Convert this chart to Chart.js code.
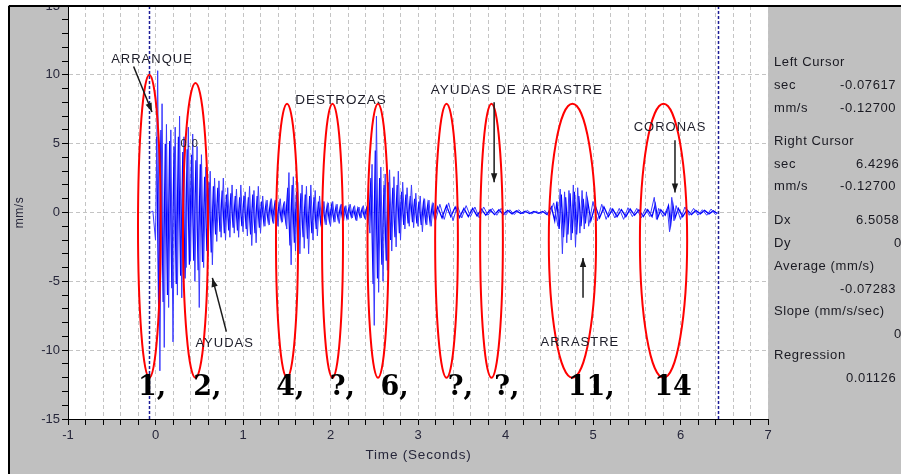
<!DOCTYPE html>
<html>
<head>
<meta charset="utf-8">
<script src="https://cdn.jsdelivr.net/npm/chart.js@4.4.1/dist/chart.umd.min.js"></script>
<style>
  html, body { margin: 0; padding: 0; background: #ffffff; }
  #contenedor { width: 901px; height: 474px; }
</style>
</head>
<body>
<div id="contenedor"><canvas id="grafica" width="901" height="474"></canvas></div>
<script>
// Señal de vibración (segundos, mm/s) - picos exteriores
const tiempo = [
  -0.06, -0.03,
  0, 0.025, 0.05, 0.075, 0.1, 0.125, 0.15, 0.175,
  0.2, 0.225, 0.25, 0.275, 0.3, 0.325, 0.35, 0.375,
  0.4, 0.425, 0.45, 0.475, 0.5, 0.525, 0.55, 0.575,
  0.6, 0.625, 0.65, 0.675, 0.7, 0.725, 0.75, 0.775,
  0.8, 0.825, 0.85, 0.875, 0.9, 0.925, 0.95, 0.975,
  1.0, 1.025, 1.05, 1.075, 1.1, 1.125, 1.15, 1.175,
  1.2, 1.225, 1.25, 1.275, 1.3, 1.325, 1.35, 1.375,
  1.4, 1.425, 1.45, 1.475, 1.5, 1.525, 1.55, 1.575,
  1.6, 1.625, 1.65, 1.675, 1.7, 1.725, 1.75, 1.775,
  1.8, 1.825, 1.85, 1.875, 1.9, 1.925, 1.95, 1.975,
  2.0, 2.025, 2.05, 2.075, 2.1, 2.125, 2.15, 2.175,
  2.2, 2.225, 2.25, 2.275, 2.3, 2.325, 2.35, 2.375,
  2.4, 2.425, 2.45, 2.475, 2.5, 2.525, 2.55, 2.575,
  2.6, 2.625, 2.65, 2.675, 2.7, 2.725, 2.75, 2.775,
  2.8, 2.825, 2.85, 2.875, 2.9, 2.925, 2.95, 2.975,
  3.0, 3.025, 3.05, 3.075, 3.1, 3.125, 3.15, 3.175,
  3.2, 3.25, 3.3, 3.35, 3.4, 3.45, 3.5, 3.55,
  3.6, 3.65, 3.7, 3.75, 3.8, 3.85, 3.9, 3.95,
  4.0, 4.05, 4.1, 4.15, 4.2, 4.25, 4.3, 4.35,
  4.4, 4.45, 4.5, 4.55, 4.6, 4.625, 4.65, 4.675,
  4.7, 4.725, 4.75, 4.775, 4.8, 4.825, 4.85, 4.875,
  4.9, 4.925, 4.95, 5.0, 5.05, 5.1, 5.15, 5.2,
  5.25, 5.3, 5.35, 5.4, 5.45, 5.5, 5.55, 5.6,
  5.65, 5.7, 5.725, 5.75, 5.8, 5.85, 5.875, 5.9,
  5.925, 5.95, 6.0, 6.05, 6.1, 6.15, 6.2, 6.25,
  6.3, 6.35, 6.4, 6.43
];
const velocidad = [
  0.0, 0.1,
  -2.0, 10.3, -11.5, 7.9, -9.8, 6.4, -6.9, 6.0,
  -9.4, 6.2, -6.0, 7.0, -6.2, 5.5, -4.0, 6.2,
  -3.5, 5.7, -5.0, 4.8, -6.9, 4.2, -4.0, 3.3,
  -3.2, 3.0, -3.8, 2.5, -2.1, 2.3, -1.8, 2.5,
  -2.0, 1.8, -1.8, 2.0, -1.5, 1.7, -1.8, 2.0,
  -1.4, 1.5, -1.7, 1.9, -2.4, 1.6, -2.2, 1.9,
  -1.5, 1.2, -1.0, 0.9, -0.9, 1.0, -0.8, 0.9,
  -1.0, 1.0, -0.7, 0.8, -1.2, 2.9, -3.8, 2.6,
  -2.8, 2.2, -3.0, 2.0, -2.6, 1.9, -3.0, 2.0,
  -2.0, 1.6, -1.7, 1.2, -1.0, 0.8, -0.9, 0.7,
  -1.0, 0.8, -0.7, 0.6, -0.8, 0.6, -0.6, 0.5,
  -0.5, 0.6, -0.4, 0.5, -0.6, 0.4, -0.4, 0.5,
  -0.5, 0.4, -1.5, 3.5, -8.2, 7.0, -5.8, 3.3,
  -5.0, 2.8, -4.2, 3.1, -2.8, 2.6, -2.5, 3.0,
  -2.0, 2.2, -1.2, 1.8, -1.0, 2.0, -1.1, 1.4,
  -1.0, 1.2, -1.4, 1.0, -0.9, 0.9, -1.0, 0.7,
  -0.6, 0.6, -0.5, 0.7, -0.6, 0.5, -0.4, 0.5,
  -0.3, 0.4, -0.4, 0.4, -0.2, 0.3, -0.2, 0.3,
  -0.2, 0.2, -0.15, 0.2, -0.1, 0.15, -0.1, 0.1,
  -0.1, 0.15, -0.3, 0.7, -1.0, 1.7, -3.0, 1.5,
  -2.2, 1.6, -2.0, 2.0, -2.5, 1.8, -1.5, 1.6,
  -1.2, 1.5, -1.0, 0.8, -0.6, 0.6, -0.5, 0.35,
  -0.4, 0.3, -0.5, 0.35, -0.3, 0.3, -0.4, 0.3,
  -0.3, 1.1, -0.5, 0.3, -0.3, 0.3, -1.4, 1.1,
  -0.6, 0.5, -0.5, 0.4, -0.2, 0.3, -0.2, 0.2,
  -0.2, 0.25, -0.15, 0.0
];

// Núcleo denso de la señal (muestras intermedias)
const tiempoNucleo = [
  0.0125, 0.0375, 0.0625, 0.0875, 0.1125, 0.1375, 0.1625, 0.1875,
  0.2125, 0.2375, 0.2625, 0.2875, 0.3125, 0.3375, 0.3625, 0.3875,
  0.4125, 0.4375, 0.4625, 0.4875, 0.5125, 0.5375, 0.5625, 0.5875,
  0.6125, 0.6375, 0.6625, 0.6875, 0.7125, 0.7375, 0.7625, 0.7875,
  0.8125, 0.8375, 0.8625, 0.8875, 0.9125, 0.9375, 0.9625, 0.9875,
  1.0125, 1.0375, 1.0625, 1.0875, 1.1125, 1.1375, 1.1625, 1.1875,
  1.2125, 1.2375, 1.2625, 1.2875, 1.3125, 1.3375, 1.3625, 1.3875,
  1.4125, 1.4375, 1.4625, 1.4875, 1.5125, 1.5375, 1.5625, 1.5875,
  1.6125, 1.6375, 1.6625, 1.6875, 1.7125, 1.7375, 1.7625, 1.7875,
  1.8125, 1.8375, 1.8625, 1.8875, 1.9125, 1.9375, 1.9625, 1.9875,
  2.0125, 2.0375, 2.0625, 2.0875, 2.1125, 2.1375, 2.1625, 2.1875,
  2.2125, 2.2375, 2.2625, 2.2875, 2.3125, 2.3375, 2.3625, 2.3875,
  2.4125, 2.4375, 2.4625, 2.4875, 2.5125, 2.5375, 2.5625, 2.5875,
  2.6125, 2.6375, 2.6625, 2.6875, 2.7125, 2.7375, 2.7625, 2.7875,
  2.8125, 2.8375, 2.8625, 2.8875, 2.9125, 2.9375, 2.9625, 2.9875,
  3.0125, 3.0375, 3.0625, 3.0875, 3.1125, 3.1375, 3.1625, 3.1875,
  3.225, 3.275, 3.325, 3.375, 3.425, 3.475, 3.525, 3.575,
  3.625, 3.675, 3.725, 3.775, 3.825, 3.875, 3.925, 3.975,
  4.025, 4.075, 4.125, 4.175, 4.225, 4.275, 4.325, 4.375,
  4.425, 4.475, 4.525, 4.5625, 4.5875, 4.6125, 4.6375, 4.6625,
  4.6875, 4.7125, 4.7375, 4.7625, 4.7875, 4.8125, 4.8375, 4.8625,
  4.8875, 4.9125, 4.9375, 4.975, 5.025, 5.075, 5.125, 5.175,
  5.225, 5.275, 5.325, 5.375, 5.425, 5.475, 5.525, 5.575,
  5.625, 5.675, 5.7125, 5.7375, 5.775, 5.825, 5.8625, 5.8875,
  5.9125, 5.9375, 5.975, 6.025, 6.075, 6.125, 6.175, 6.225,
  6.275, 6.325, 6.375, 6.415
];
const velocidadNucleo = [
  5.5, -7.5, 6.0, -6.5, 5.0, -6.0, 5.2, -5.5,
  4.8, -5.2, 5.5, -4.6, 4.4, -4.8, 4.6, -3.8,
  4.2, -3.5, 3.8, -4.2, 3.5, -3.6, 2.6, -2.8,
  2.2, -2.9, 1.9, -1.6, 1.8, -1.4, 1.6, -1.5,
  1.3, -1.3, 1.4, -1.1, 1.2, -1.3, 1.1, -1.0,
  1.2, -1.2, 1.1, -1.6, 1.3, -1.5, 1.2, -1.1,
  0.8, -0.7, 0.6, -0.6, 0.7, -0.5, 0.6, -0.7,
  0.6, -0.5, 0.5, -0.6, 1.8, -2.4, 2.0, -2.2,
  1.5, -2.0, 1.4, -1.8, 1.3, -1.9, 1.2, -1.5,
  1.1, -1.2, 0.8, -0.7, 0.6, -0.6, 0.5, -0.6,
  0.5, -0.5, 0.4, -0.5, 0.4, -0.4, 0.3, -0.4,
  0.4, -0.3, 0.3, -0.4, 0.3, -0.3, 0.3, -0.3,
  0.3, -0.6, 2.5, -5.2, 4.5, -4.8, 2.5, -3.8,
  2.0, -3.5, 2.2, -2.0, 1.8, -1.8, 2.0, -1.5,
  1.5, -0.9, 1.3, -0.8, 1.2, -0.7, 1.0, -0.8,
  0.8, -0.9, 0.7, -0.6, 0.6, -0.7, 0.5, -0.4,
  0.4, -0.4, 0.5, -0.3, 0.4, -0.35, 0.3, -0.3,
  0.3, -0.25, 0.25, -0.2, 0.2, -0.15, 0.2, -0.15,
  0.15, -0.1, 0.12, -0.08, 0.1, -0.08, 0.08, -0.06,
  0.08, -0.15, 0.4, -0.6, 0.8, -1.2, 1.3, -1.8,
  1.1, -1.6, 1.4, -1.5, 1.5, -1.6, 1.2, -1.0,
  1.0, -0.8, 0.9, -0.6, 0.5, -0.4, 0.4, -0.3,
  0.25, -0.3, 0.2, -0.3, 0.25, -0.2, 0.2, -0.3,
  0.2, -0.3, 0.6, -0.4, 0.2, -0.2, 0.5, -0.9,
  0.6, -0.4, 0.3, -0.3, 0.2, -0.15, 0.15, -0.1,
  0.15, -0.1, 0.12, -0.05
];

// Cursores (segundos)
const cursores = [-0.07617, 6.4296];

// Elipses rojas: centro, semiancho (s), tope y fondo (mm/s)
const elipseCentro = [-0.07, 0.457, 1.503, 2.023, 2.543, 3.326, 3.84, 4.765, 5.806];
const elipseSemiancho = [0.13, 0.143, 0.126, 0.12, 0.12, 0.13, 0.13, 0.27, 0.27];
const elipseTope = [10.0, 9.4, 7.9, 7.9, 7.9, 7.9, 7.9, 7.9, 7.9];
const elipseFondo = [-12, -12, -12, -12, -12, -12, -12, -12, -12];

// Números grandes bajo cada elipse
const numeros = ['1,', '2,', '4,', '?,', '6,', '?,', '?,', '11,', '14'];
const numerosX = [-0.2, 0.43, 1.38, 1.99, 2.57, 3.34, 3.87, 4.71, 5.7];

// Textos y flechas de anotación (en unidades de los ejes)
const textos = [
  { t: 'ARRANQUE', x: -0.04, y: 11.1, tam: 13 },
  { t: '0.0', x: 0.39, y: 5.0, tam: 11 },
  { t: 'AYUDAS', x: 0.79, y: -9.5, tam: 13 },
  { t: 'DESTROZAS', x: 2.12, y: 8.15, tam: 13.5 },
  { t: 'AYUDAS DE ARRASTRE', x: 4.13, y: 8.87, tam: 13.5 },
  { t: 'ARRASTRE', x: 4.85, y: -9.45, tam: 13 },
  { t: 'CORONAS', x: 5.88, y: 6.18, tam: 13 }
];
const flechas = [
  { de: [-0.25, 10.6], a: [-0.04, 7.3] },
  { de: [0.81, -8.65], a: [0.65, -4.75] },
  { de: [3.87, 8.0], a: [3.87, 2.2] },
  { de: [4.886, -6.2], a: [4.886, -3.3] },
  { de: [5.937, 5.25], a: [5.937, 1.45] }
];

// Panel derecho
const panel = [
  { e: 'Left Cursor', y: 62 },
  { e: 'sec', v: '-0.07617', y: 85, vx: 840 },
  { e: 'mm/s', v: '-0.12700', y: 108, vx: 840 },
  { e: 'Right Cursor', y: 141 },
  { e: 'sec', v: '6.4296', y: 164, vx: 856 },
  { e: 'mm/s', v: '-0.12700', y: 186, vx: 840 },
  { e: 'Dx', v: '6.5058', y: 220, vx: 856 },
  { e: 'Dy', v: '0', y: 243, vx: 894 },
  { e: 'Average (mm/s)', y: 266 },
  { e: '', v: '-0.07283', y: 289, vx: 840 },
  { e: 'Slope (mm/s/sec)', y: 311 },
  { e: '', v: '0', y: 334, vx: 894 },
  { e: 'Regression', y: 355 },
  { e: '', v: '0.01126', y: 378, vx: 846 }
];

function esEntero(v) {
  return Math.abs(v - Math.round(v)) < 1e-6;
}

function flecha(ctx, x1, y1, x2, y2) {
  ctx.beginPath();
  ctx.moveTo(x1, y1);
  ctx.lineTo(x2, y2);
  ctx.stroke();
  const ang = Math.atan2(y2 - y1, x2 - x1);
  const l = 9, w = 3.2;
  ctx.beginPath();
  ctx.moveTo(x2, y2);
  ctx.lineTo(x2 - l * Math.cos(ang) + w * Math.sin(ang), y2 - l * Math.sin(ang) - w * Math.cos(ang));
  ctx.lineTo(x2 - l * Math.cos(ang) - w * Math.sin(ang), y2 - l * Math.sin(ang) + w * Math.cos(ang));
  ctx.closePath();
  ctx.fill();
}

const pluginDibujo = {
  id: 'dibujo',
  beforeDraw(chart) {
    const { ctx, chartArea: a, width, height } = chart;
    ctx.save();
    ctx.fillStyle = '#c0c0c0';
    ctx.fillRect(0, 0, width, height);
    ctx.fillStyle = '#ffffff';
    ctx.fillRect(a.left, a.top, a.right - a.left, a.bottom - a.top);
    ctx.restore();
  },
  afterDatasetsDraw(chart) {
    const { ctx, chartArea: a, scales: { x, y } } = chart;
    ctx.save();
    // cursores
    ctx.strokeStyle = '#1c1c96';
    ctx.lineWidth = 1.5;
    ctx.setLineDash([3, 2]);
    cursores.forEach(c => {
      const px = Math.round(x.getPixelForValue(c)) + 0.5;
      ctx.beginPath();
      ctx.moveTo(px, a.top);
      ctx.lineTo(px, a.bottom);
      ctx.stroke();
    });
    ctx.setLineDash([]);

    // elipses
    ctx.strokeStyle = '#ff0000';
    ctx.lineWidth = 2;
    elipseCentro.forEach((c, i) => {
      const cx = x.getPixelForValue(c);
      const rx = x.getPixelForValue(c + elipseSemiancho[i]) - cx;
      const yt = y.getPixelForValue(elipseTope[i]);
      const yb = y.getPixelForValue(elipseFondo[i]);
      ctx.beginPath();
      ctx.ellipse(cx, (yt + yb) / 2, rx, (yb - yt) / 2, 0, 0, Math.PI * 2);
      ctx.stroke();
    });

    // flechas
    ctx.strokeStyle = '#1a1a1a';
    ctx.fillStyle = '#1a1a1a';
    ctx.lineWidth = 1.5;
    flechas.forEach(f => {
      flecha(ctx, x.getPixelForValue(f.de[0]), y.getPixelForValue(f.de[1]),
        x.getPixelForValue(f.a[0]), y.getPixelForValue(f.a[1]));
    });

    // textos
    ctx.textAlign = 'center';
    ctx.textBaseline = 'middle';
    ctx.letterSpacing = '1px';
    textos.forEach(t => {
      ctx.font = t.tam + 'px "Liberation Sans", Arial, sans-serif';
      ctx.fillStyle = '#1e1e2a';
      ctx.fillText(t.t, x.getPixelForValue(t.x), y.getPixelForValue(t.y));
    });
    ctx.letterSpacing = '0px';

    // números grandes
    ctx.textAlign = 'left';
    ctx.textBaseline = 'alphabetic';
    ctx.font = 'bold 27px "DejaVu Serif", serif';
    ctx.fillStyle = '#000000';
    numeros.forEach((n, i) => {
      ctx.fillText(n, x.getPixelForValue(numerosX[i]), y.getPixelForValue(-13.25));
    });
    ctx.restore();
  },
  afterDraw(chart) {
    const { ctx, width, height, chartArea: a } = chart;
    ctx.save();
    // marco
    ctx.fillStyle = '#ffffff';
    ctx.fillRect(0, 0, width, 5);
    ctx.fillRect(0, 0, 8, height);
    ctx.strokeStyle = '#000000';
    ctx.lineWidth = 2;
    ctx.beginPath();
    ctx.moveTo(9, 6);
    ctx.lineTo(width, 6);
    ctx.moveTo(9, 6);
    ctx.lineTo(9, height);
    ctx.stroke();

    // títulos de ejes
    ctx.fillStyle = '#26263a';
    ctx.font = '13.5px "Liberation Sans", Arial, sans-serif';
    ctx.letterSpacing = '0.8px';
    ctx.textAlign = 'center';
    ctx.textBaseline = 'middle';
    ctx.fillText('Time (Seconds)', (a.left + a.right) / 2 + 0.5, 455);
    ctx.save();
    ctx.translate(20, (a.top + a.bottom) / 2);
    ctx.rotate(-Math.PI / 2);
    ctx.font = '12px "Liberation Sans", Arial, sans-serif';
    ctx.letterSpacing = '0.5px';
    ctx.fillText('mm/s', 0, 0);
    ctx.restore();

    // panel derecho
    ctx.textAlign = 'left';
    ctx.font = '13px "Liberation Sans", Arial, sans-serif';
    ctx.letterSpacing = '0.6px';
    ctx.fillStyle = '#1a1a22';
    panel.forEach(p => {
      if (p.e) ctx.fillText(p.e, 774, p.y);
      if (p.v) ctx.fillText(p.v, p.vx, p.y);
    });
    ctx.letterSpacing = '0px';
    ctx.restore();
  }
};

const puntos = tiempo.map((t, i) => ({ x: t, y: velocidad[i] }));
const puntosNucleo = tiempoNucleo.map((t, i) => ({ x: t, y: velocidadNucleo[i] }));

new Chart(document.getElementById('grafica').getContext('2d'), {
  type: 'line',
  data: {
    datasets: [{
      data: puntos,
      borderColor: '#3a3aff',
      borderWidth: 1,
      pointRadius: 0,
      tension: 0,
      fill: false
    }, {
      data: puntosNucleo,
      borderColor: '#0000ff',
      borderWidth: 1.3,
      pointRadius: 0,
      tension: 0,
      fill: false
    }]
  },
  options: {
    responsive: false,
    animation: false,
    events: [],
    layout: { autoPadding: false, padding: { left: 9, right: 133, top: 6, bottom: 0 } },
    plugins: { legend: { display: false }, tooltip: { enabled: false } },
    scales: {
      x: {
        type: 'linear',
        min: -1,
        max: 7,
        afterFit(s) { s.height = 55; s.paddingLeft = 0; s.paddingRight = 0; },
        ticks: {
          stepSize: 0.2,
          autoSkip: false,
          maxRotation: 0,
          padding: 3,
          color: '#26263a',
          font: { family: '"Liberation Sans", Arial, sans-serif', size: 13 },
          callback: v => esEntero(v) ? String(Math.round(v)) : ''
        },
        grid: { color: '#c4c4c4', tickColor: '#000000', tickLength: 6, tickBorderDash: [], borderDash: [4, 3] },
        border: { color: '#000000', width: 1, dash: [4, 3] }
      },
      y: {
        min: -15,
        max: 15,
        afterFit(s) { s.width = 59; s.paddingTop = 0; s.paddingBottom = 0; },
        ticks: {
          stepSize: 1,
          autoSkip: false,
          padding: 2,
          color: '#26263a',
          font: { family: '"Liberation Sans", Arial, sans-serif', size: 13 },
          callback: v => (Math.round(v) % 5 === 0 ? String(Math.round(v)) : '')
        },
        grid: {
          color: c => (c.tick && Math.round(c.tick.value) % 5 === 0 ? '#c4c4c4' : 'rgba(0,0,0,0)'),
          tickColor: '#000000',
          tickLength: 6,
          tickBorderDash: [],
          borderDash: [4, 3]
        },
        border: { color: '#000000', width: 1, dash: [4, 3] }
      }
    }
  },
  plugins: [pluginDibujo]
});
</script>
</body>
</html>
